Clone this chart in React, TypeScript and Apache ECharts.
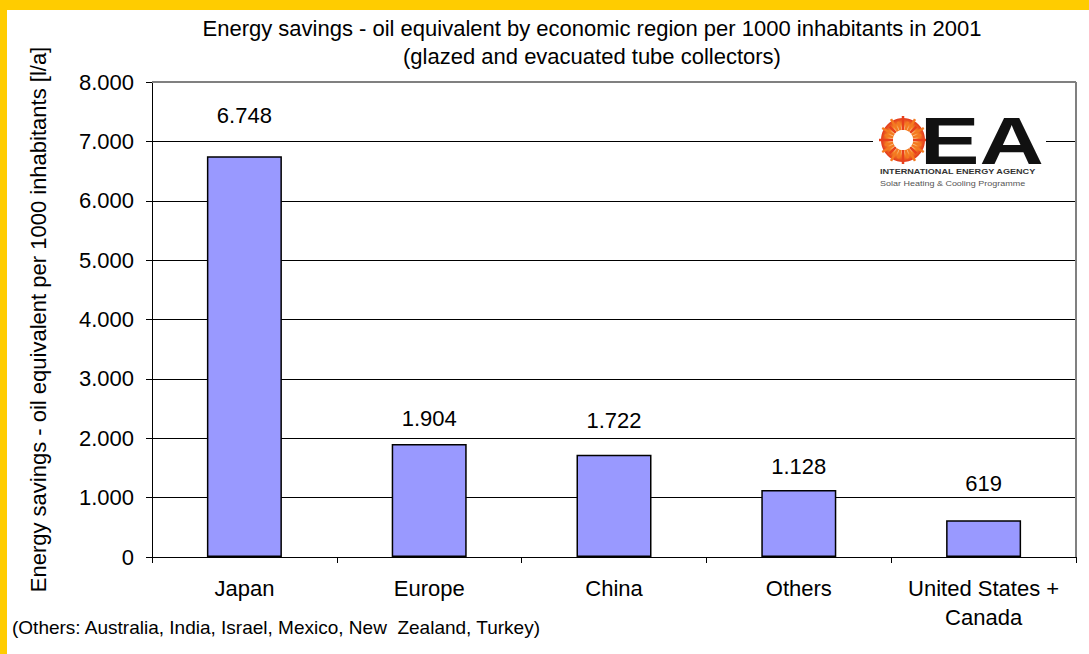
import React, { useEffect, useRef } from "react";
import * as echarts from "echarts";

const categories = ["Japan", "Europe", "China", "Others", "United States +\nCanada"];
const values = [6748, 1904, 1722, 1128, 619];
const yTicks = [0, 1000, 2000, 3000, 4000, 5000, 6000, 7000, 8000];
const labelDistances = [30, 14, 23, 13, 26];

const titleLines = [
  "Energy savings - oil equivalent by economic region per 1000 inhabitants in 2001",
  "(glazed and evacuated tube collectors)",
];
const yAxisName = "Energy savings - oil equivalent per 1000 inhabitants [l/a]";
const footnote = "(Others: Australia, India, Israel, Mexico, New  Zealand, Turkey)";

const FONT = "'Liberation Sans', Arial, sans-serif";
const FS = 22;

function fmt(v: number): string {
  return String(Math.round(v)).replace(/\B(?=(\d{3})+(?!\d))/g, ".");
}

export default function App() {
  const ref = useRef<HTMLDivElement>(null);
  useEffect(() => {
    if (!ref.current) return;
    const chart = echarts.init(ref.current, null, { renderer: "svg" });
    const L = 152, R = 1076, T = 82, B = 557;
    const rays: any[] = [];
    const cx = 903, cy = 140;
    for (let i = 0; i < 24; i++) {
      const a = (i / 24) * Math.PI * 2;
      const r1 = 10, r2 = i % 2 === 0 ? 24 : 19;
      rays.push({
        type: "line",
        shape: { x1: cx + r1 * Math.cos(a), y1: cy + r1 * Math.sin(a), x2: cx + r2 * Math.cos(a), y2: cy + r2 * Math.sin(a) },
        style: { stroke: i % 3 === 0 ? "#e8401c" : "#f47a20", lineWidth: 2.5 },
        z: 101,
      });
    }
    chart.setOption({
      animation: false,
      backgroundColor: "#ffffff",
      textStyle: { fontFamily: FONT },
      grid: { left: L, right: 1089 - R, top: T, bottom: 654 - B, containLabel: false },
      xAxis: {
        type: "category",
        data: categories,
        axisLine: { lineStyle: { color: "#000", width: 1 } },
        axisTick: { show: true, length: 6, lineStyle: { color: "#000" } },
        axisLabel: { color: "#000", fontSize: FS, fontFamily: FONT, margin: 17, lineHeight: 29, interval: 0 },
      },
      yAxis: {
        type: "value",
        min: 0,
        max: 8000,
        interval: 1000,
        name: yAxisName,
        nameLocation: "middle",
        nameGap: 103,
        nameTextStyle: { color: "#000", fontSize: FS, fontFamily: FONT },
        axisLine: { show: true, lineStyle: { color: "#000", width: 1 } },
        axisTick: { show: true, length: 6, lineStyle: { color: "#000" } },
        axisLabel: {
          color: "#000",
          fontSize: FS,
          fontFamily: FONT,
          margin: 18,
          formatter: (v: number) => (yTicks.includes(v) ? fmt(v) : ""),
        },
        splitLine: { show: true, lineStyle: { color: "#000", width: 1 } },
      },
      series: [
        {
          type: "bar",
          barWidth: 75,
          data: values.map((v, i) => ({ value: v, label: { distance: labelDistances[i] } })),
          itemStyle: { color: "#9999ff", borderColor: "#000", borderWidth: 1.5 },
          label: {
            show: true,
            position: "top",
            color: "#000",
            fontSize: FS,
            fontFamily: FONT,
            formatter: (p: any) => fmt(p.value),
          },
        },
      ],
      graphic: [
        { type: "rect", shape: { x: 0, y: 0, width: 1089, height: 10 }, style: { fill: "#ffcc00" }, z: 200 },
        { type: "rect", shape: { x: 0, y: 0, width: 7, height: 654 }, style: { fill: "#ffcc00" }, z: 200 },
        { type: "line", shape: { x1: L, y1: T, x2: R, y2: T }, style: { stroke: "#808080", lineWidth: 2 }, z: 90 },
        { type: "line", shape: { x1: R, y1: T, x2: R, y2: B }, style: { stroke: "#808080", lineWidth: 2 }, z: 90 },
        { type: "text", x: 592, y: 28, style: { text: titleLines[0], fill: "#000", fontSize: FS, fontFamily: FONT, align: "center", verticalAlign: "middle" } },
        { type: "text", x: 592, y: 56, style: { text: titleLines[1], fill: "#000", fontSize: FS, fontFamily: FONT, align: "center", verticalAlign: "middle" } },
        { type: "text", x: 12, y: 627, style: { text: footnote, fill: "#000", fontSize: 19, fontFamily: FONT, verticalAlign: "middle" } },
        { type: "rect", shape: { x: 873, y: 110, width: 173, height: 82 }, style: { fill: "#ffffff" }, z: 100 },
        {
          type: "circle",
          shape: { cx, cy, r: 22 },
          style: {
            fill: new echarts.graphic.RadialGradient(0.5, 0.5, 0.5, [
              { offset: 0, color: "#ffffff" },
              { offset: 0.45, color: "#fff4e0" },
              { offset: 0.7, color: "#f58a2a" },
              { offset: 1, color: "#e2361a" },
            ]),
          },
          z: 100,
        },
        ...rays,
        { type: "circle", shape: { cx, cy, r: 10 }, style: { fill: "#ffffff" }, z: 102 },
        {
          type: "text",
          x: 920,
          y: 141,
          scaleX: 1.35,
          style: { text: "EA", fill: "#111", fontSize: 66, lineHeight: 48, fontWeight: "bold", fontFamily: FONT, verticalAlign: "middle" },
          z: 102,
        },
        {
          type: "text",
          x: 880,
          y: 172,
          scaleX: 1.3,
          style: { text: "INTERNATIONAL ENERGY AGENCY", fill: "#333", fontSize: 7, lineHeight: 8, fontWeight: "bold", fontFamily: FONT, verticalAlign: "middle" },
          z: 102,
        },
        {
          type: "text",
          x: 880,
          y: 184,
          scaleX: 1.2,
          style: { text: "Solar Heating & Cooling Programme", fill: "#555", fontSize: 7.5, lineHeight: 8, fontFamily: FONT, verticalAlign: "middle" },
          z: 102,
        },
      ],
    });
    return () => chart.dispose();
  }, []);
  return (
    <div
      ref={ref}
      style={{ position: "fixed", left: 0, top: 0, width: 1089, height: 654, background: "#fff" }}
    />
  );
}
